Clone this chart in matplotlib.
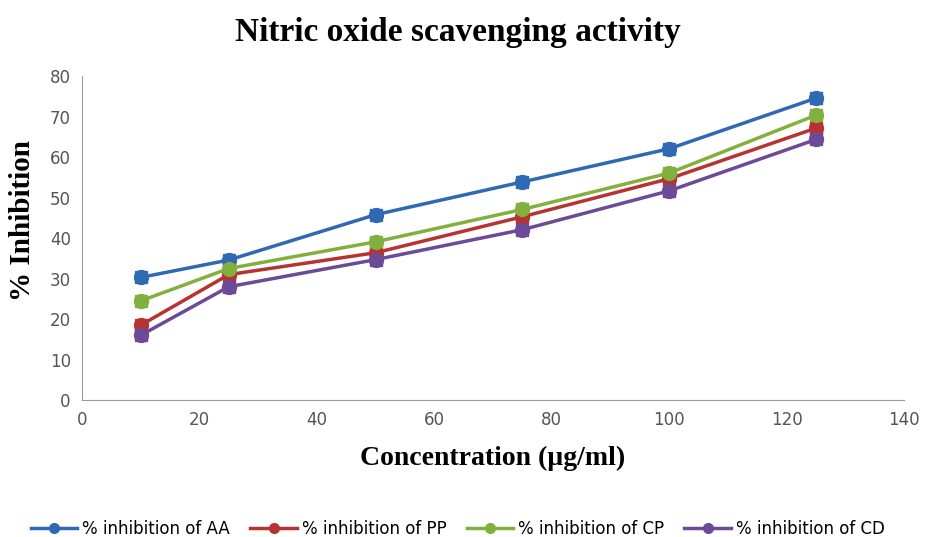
import matplotlib.pyplot as plt

conc = [10, 25, 50, 75, 100, 125]
aa = [30.3, 34.6, 45.8, 53.9, 62.1, 74.6]
pp = [18.5, 31.0, 36.4, 45.3, 54.7, 67.2]
cp = [24.5, 32.5, 39.1, 47.1, 56.1, 70.4]
cd = [16.0, 28.0, 34.7, 42.1, 51.7, 64.4]

series = [
    ('% inhibition of AA', aa, '#2f68b3'),
    ('% inhibition of PP', pp, '#b83232'),
    ('% inhibition of CP', cp, '#82b03c'),
    ('% inhibition of CD', cd, '#6c4a98'),
]

fig = plt.figure(figsize=(9.25, 5.37), dpi=100)
ax = fig.add_axes([0.0886, 0.255, 0.889, 0.603])

for label, vals, col in series:
    ax.plot(conc, vals, color=col, lw=2.5, marker='s', ms=8, zorder=3)
    ax.plot(conc, vals, color=col, lw=0, marker='o', ms=10, label=label, zorder=4)

ax.set_xlim(0, 140)
ax.set_ylim(0, 80)
ax.set_xticks(range(0, 141, 20))
ax.set_yticks(range(0, 81, 10))
for s in ['top', 'right']:
    ax.spines[s].set_visible(False)
for s in ['left', 'bottom']:
    ax.spines[s].set_color('#9a9a9a')
ax.tick_params(length=0, labelsize=12, colors='#555555', pad=8)

fig.text(0.495, 0.94, 'Nitric oxide scavenging activity', fontfamily='Liberation Serif',
         fontweight='bold', fontsize=24, ha='center', va='center')
ax.set_xlabel('Concentration (µg/ml)', fontfamily='Liberation Serif',
              fontweight='bold', fontsize=20)
ax.xaxis.set_label_coords(0.5, -0.14)
ax.set_ylabel('% Inhibition', fontfamily='Liberation Serif',
              fontweight='bold', fontsize=21)
ax.yaxis.set_label_coords(-0.056, 0.555)

handles = [plt.Line2D([], [], color=c, lw=2.5, marker='o', ms=7) for _, _, c in series]
fig.legend(handles, [s[0] for s in series], loc='lower center', ncol=4,
           frameon=False, bbox_to_anchor=(0.495, -0.03), handlelength=2.8,
           columnspacing=1.2, handletextpad=0.3,
           prop={'family': ['Liberation Sans Narrow', 'DejaVu Sans'], 'size': 12})

fig.savefig('out.png', dpi=100)
